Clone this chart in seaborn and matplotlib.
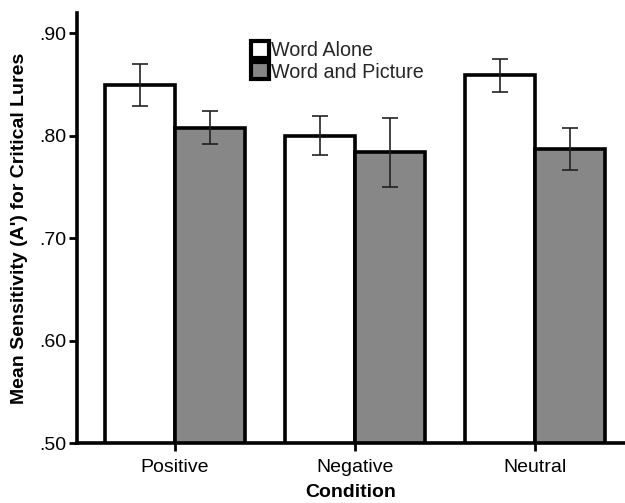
import matplotlib
matplotlib.use("Agg")
import matplotlib.pyplot as plt
import seaborn as sns
import pandas as pd
import numpy as np

# Mean A' by emotional condition and presentation format
conditions = ["Positive", "Negative", "Neutral"]
formats = ["Word Alone", "Word and Picture"]
word_alone = [0.850, 0.800, 0.859]
word_picture = [0.808, 0.784, 0.787]
err_word_alone = [0.0205, 0.019, 0.016]
err_word_picture = [0.016, 0.0335, 0.0205]
ytick_values = [0.50, 0.60, 0.70, 0.80, 0.90]
ytick_labels = [".50", ".60", ".70", ".80", ".90"]

df = pd.DataFrame({
    "Condition": conditions * 2,
    "Format": [formats[0]] * 3 + [formats[1]] * 3,
    "Sensitivity": word_alone + word_picture,
})
errors = {formats[0]: err_word_alone, formats[1]: err_word_picture}

sns.set_theme(style="white")
plt.rcParams["font.family"] = ["Liberation Sans", "DejaVu Sans"]

fig = plt.figure(figsize=(6.25, 5.03), dpi=100)
ax = fig.add_axes([77 / 625, 59.7 / 503, 548 / 625, 430.3 / 503])

sns.barplot(
    data=df, x="Condition", y="Sensitivity", hue="Format",
    order=conditions, hue_order=formats,
    palette=["white", "#878787"], edgecolor="black", linewidth=2.6,
    width=0.78, gap=0, errorbar=None, ax=ax, zorder=2,
)

# error bars centred on each bar
for container, fmt in zip(ax.containers, formats):
    xs = [p.get_x() + p.get_width() / 2 for p in container]
    ys = [p.get_height() for p in container]
    ax.errorbar(xs, ys, yerr=errors[fmt], fmt="none", ecolor="#222222",
                elinewidth=1.2, capsize=6, capthick=1.2, zorder=3)

ax.set_ylim(0.50, 0.92)
ax.set_xlim(-0.544, 2.5)
ax.set_yticks(ytick_values)
ax.set_yticklabels(ytick_labels)

for side in ["top", "right"]:
    ax.spines[side].set_visible(False)
for side in ["left", "bottom"]:
    ax.spines[side].set_linewidth(2.6)
    ax.spines[side].set_color("black")
    ax.spines[side].set_zorder(4)

ax.tick_params(axis="both", which="major", direction="out", length=6,
               width=2, color="black", labelsize=14, labelcolor="black",
               bottom=True, left=True)
ax.tick_params(axis="x", pad=5)
ax.tick_params(axis="y", pad=2)

ax.set_xlabel("Condition", fontsize=14, fontweight="bold", labelpad=6,
              color="black")
ax.set_ylabel("Mean Sensitivity (A') for Critical Lures", fontsize=14,
              fontweight="bold", labelpad=8, color="black")

leg = ax.legend(loc="upper left", bbox_to_anchor=(0.317, 0.935),
                frameon=False, fontsize=14.2, handlelength=0.95,
                handleheight=0.95, handletextpad=0.1, labelspacing=0.1,
                borderpad=0, borderaxespad=0)
for h in leg.legend_handles:
    h.set_linewidth(3)
    h.set_edgecolor("black")

fig.savefig("out.png", dpi=100)
